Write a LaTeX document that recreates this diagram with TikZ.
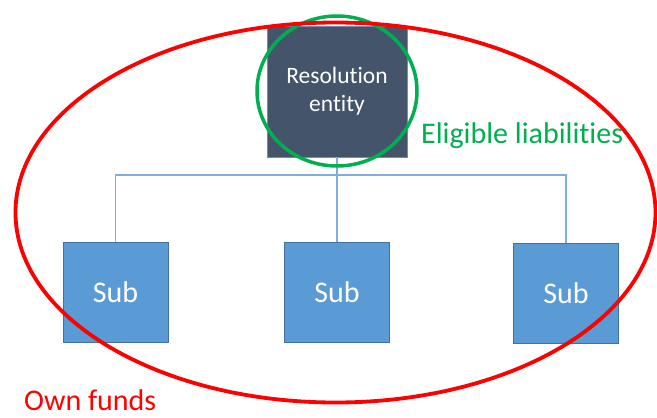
\documentclass[tikz,border=0pt]{standalone}
\usepackage{fontspec}
\setmainfont[Ligatures=NoCommon]{Carlito}
\definecolor{darkbox}{HTML}{44546A}
\definecolor{darkedge}{HTML}{6F8DB5}
\definecolor{subfill}{HTML}{5B9BD5}
\definecolor{subedge}{HTML}{41719C}
\definecolor{linkblue}{HTML}{7EAEDD}
\definecolor{eligreen}{HTML}{00B050}
\definecolor{ownred}{HTML}{FF0000}
\begin{document}
\begin{tikzpicture}[x=1pt,y=-1pt,
  resbox/.style={draw=darkedge, line width=0.8pt, fill=darkbox, minimum width=140pt, minimum height=131pt, inner sep=0pt, text=white, align=center, font=\fontsize{23.5}{28}\selectfont},
  subbox/.style={draw=subedge, line width=1pt, fill=subfill, minimum width=105pt, minimum height=100pt, inner sep=0pt, text=white, font=\fontsize{30}{34}\selectfont},
  link/.style={draw=linkblue, line width=1.5pt},
  lbl/.style={anchor=base west, inner sep=0pt, font=\fontsize{30}{34}\selectfont}]
\useasboundingbox (0,0) rectangle (657,418);
\fill[white] (0,0) rectangle (657,418);
% boxes
\node[resbox] (res) at (337,91.5) {Resolution\\entity};
\node[subbox] (s1) at (115.5,292.5) {Sub};
\node[subbox] (s2) at (337,292.5) {Sub};
\node[subbox] (s3) at (566,293) {Sub};
% connectors
\coordinate (bar) at (337,175);
\draw[link] (res.south) -- (s2.north);
\draw[link] (s1.north) |- (bar) -| (s3.north);
% circles
\coordinate (gc) at (337,91);
\draw[eligreen, line width=3.5pt] (gc) ellipse [x radius=80pt, y radius=75pt];
\coordinate (rc) at (335.5,212.5);
\draw[ownred, line width=3.8pt] (rc) ellipse [x radius=320pt, y radius=190pt];
% labels
\node[lbl, text=eligreen] (el) at (421,143) {Eligible liabilities};
\node[lbl, text=ownred] (of) at (24,410) {Own funds};
\end{tikzpicture}
\end{document}
